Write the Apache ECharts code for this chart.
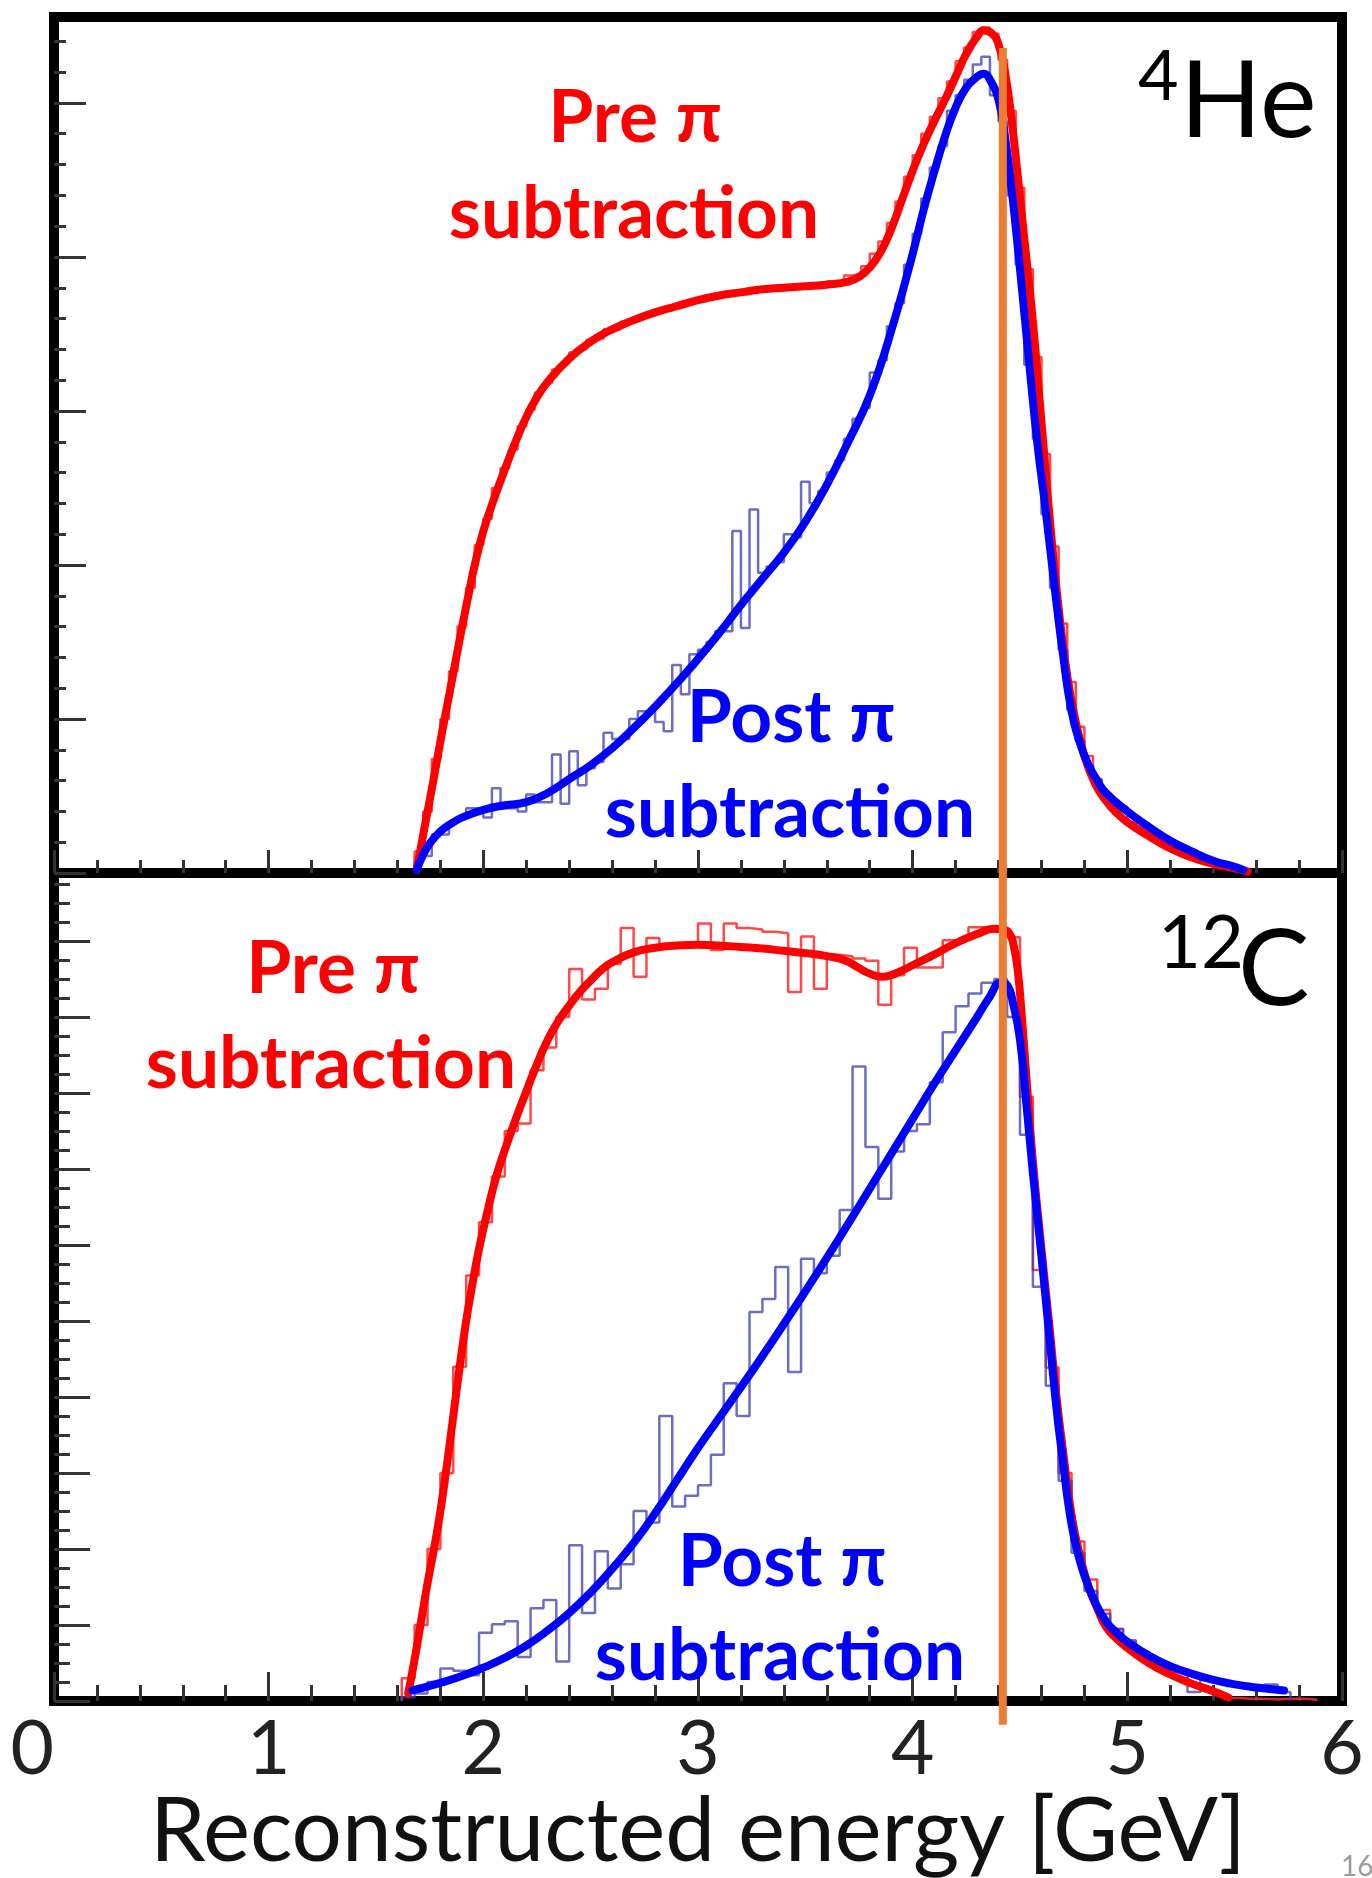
<!DOCTYPE html>
<html>
<head>
<meta charset="utf-8">
<script src="https://cdn.jsdelivr.net/npm/echarts@6/dist/echarts.min.js"></script>
<style>
html,body{margin:0;padding:0;background:#ffffff;}
#chart{width:1372px;height:1878px;}
</style>
</head>
<body>
<div id="chart"></div>
<script>
// ---------------- data ----------------
const xTicks = [0, 1, 2, 3, 4, 5, 6];
const heMajorTicks = [0, 1, 2, 3, 4, 5];
const cMajorTicks = [0, 1, 2, 3, 4, 5, 6, 7, 8, 9, 10];
const energyMarker = 4.42;

// 4He: smooth fits
const heRedFitX = [1.69,1.72,1.75,1.78,1.81,1.84,1.87,1.90,1.93,1.96,2.00,2.05,2.10,2.15,2.20,2.25,2.30,2.40,2.50,2.60,2.70,2.80,2.90,3.00,3.10,3.20,3.30,3.40,3.50,3.60,3.70,3.75,3.80,3.85,3.90,3.95,4.00,4.05,4.10,4.15,4.20,4.25,4.30,4.33,4.37,4.40,4.43,4.46,4.49,4.52,4.56,4.60,4.64,4.68,4.72,4.76,4.80,4.85,4.90,4.95,5.00,5.10,5.20,5.30,5.40,5.50,5.56];
const heRedFitY = [0.02,0.25,0.47,0.70,0.93,1.15,1.37,1.59,1.80,2.00,2.22,2.43,2.62,2.80,2.96,3.09,3.19,3.34,3.45,3.53,3.59,3.64,3.68,3.72,3.75,3.77,3.79,3.80,3.81,3.82,3.84,3.87,3.93,4.03,4.18,4.37,4.56,4.73,4.88,5.02,5.17,5.32,5.43,5.47,5.45,5.38,5.20,4.90,4.52,4.12,3.58,2.93,2.28,1.72,1.28,0.98,0.76,0.58,0.47,0.39,0.33,0.24,0.16,0.10,0.06,0.03,0.01];
const heBlueFitX = [1.69,1.72,1.75,1.80,1.85,1.90,2.00,2.10,2.20,2.30,2.40,2.50,2.60,2.70,2.80,2.90,3.00,3.10,3.20,3.30,3.40,3.50,3.60,3.70,3.80,3.90,4.00,4.05,4.10,4.15,4.20,4.25,4.30,4.33,4.36,4.40,4.43,4.46,4.50,4.54,4.58,4.62,4.66,4.70,4.74,4.78,4.82,4.86,4.90,5.00,5.10,5.20,5.30,5.40,5.50,5.54];
const heBlueFitY = [0.02,0.12,0.19,0.27,0.32,0.36,0.41,0.44,0.46,0.52,0.61,0.70,0.81,0.94,1.08,1.23,1.39,1.56,1.74,1.91,2.08,2.28,2.52,2.80,3.10,3.52,4.02,4.30,4.55,4.78,4.97,5.10,5.17,5.19,5.15,5.02,4.78,4.45,3.92,3.35,2.80,2.35,1.87,1.42,1.05,0.84,0.70,0.60,0.52,0.40,0.30,0.21,0.14,0.08,0.04,0.02];

// 4He: histograms (bin width 0.04 GeV, first bin starts at 1.68 GeV)
const heHistStart = 1.68;
const heBinWidth = 0.04;
const heRedHist = [0.14,0.40,0.74,1.00,1.31,1.60,1.85,2.13,2.30,2.50,2.63,2.75,2.90,3.01,3.12,3.18,3.27,3.31,3.38,3.40,3.46,3.47,3.53,3.53,3.58,3.58,3.62,3.62,3.66,3.65,3.69,3.69,3.72,3.71,3.75,3.74,3.77,3.76,3.78,3.77,3.80,3.78,3.81,3.79,3.82,3.80,3.82,3.81,3.84,3.82,3.88,3.89,3.94,4.02,4.10,4.22,4.36,4.52,4.66,4.80,4.91,5.03,5.14,5.27,5.36,5.46,5.49,5.45,5.28,4.95,4.45,3.92,3.35,2.72,2.12,1.62,1.24,0.95,0.76,0.60,0.50,0.42,0.36,0.33,0.28,0.25,0.21,0.18,0.15,0.13,0.10,0.09,0.07,0.05,0.04,0.03,0.02];
const heBlueHist = [0.08,0.11,0.25,0.25,0.33,0.36,0.42,0.42,0.36,0.55,0.42,0.42,0.40,0.51,0.46,0.46,0.77,0.45,0.79,0.57,0.68,0.72,0.91,0.87,0.87,1.00,1.05,1.05,0.98,0.92,1.35,1.16,1.42,1.45,1.50,1.57,1.57,2.22,1.59,2.36,1.95,1.99,2.02,2.20,2.18,2.54,2.40,2.48,2.60,2.68,2.82,2.95,3.02,3.25,3.33,3.55,3.70,3.95,4.15,4.38,4.58,4.72,4.95,5.05,5.15,5.25,5.30,5.05,4.88,4.40,3.95,3.30,2.82,2.33,1.85,1.45,1.06,0.86,0.70,0.61,0.52,0.47,0.43,0.37,0.34,0.30,0.26,0.23,0.19,0.17,0.14,0.12,0.09,0.07,0.05,0.04,0.02];

// 12C: smooth fits
const cRedFitX = [1.65,1.68,1.71,1.74,1.77,1.80,1.83,1.86,1.89,1.92,1.95,1.98,2.02,2.06,2.10,2.15,2.20,2.25,2.30,2.35,2.40,2.45,2.50,2.55,2.60,2.70,2.80,2.90,3.00,3.10,3.20,3.30,3.40,3.50,3.60,3.68,3.74,3.80,3.855,3.90,3.95,4.00,4.10,4.20,4.30,4.38,4.42,4.45,4.47,4.49,4.51,4.53,4.56,4.60,4.64,4.67,4.70,4.74,4.78,4.82,4.86,4.90,4.95,5.00,5.10,5.20,5.30,5.40,5.47];
const cRedFitY = [0.10,0.55,1.05,1.55,2.00,2.50,3.10,3.75,4.40,5.00,5.50,5.95,6.45,6.90,7.25,7.65,8.02,8.38,8.70,8.95,9.15,9.33,9.48,9.62,9.72,9.85,9.91,9.94,9.95,9.94,9.92,9.90,9.87,9.84,9.80,9.75,9.66,9.57,9.53,9.55,9.61,9.68,9.82,9.97,10.09,10.16,10.15,10.10,9.95,9.60,8.95,8.20,7.10,5.95,4.85,4.00,3.30,2.45,1.90,1.50,1.22,0.98,0.82,0.70,0.50,0.35,0.23,0.13,0.05];
const cBlueFitX = [1.67,1.80,1.90,2.00,2.10,2.20,2.30,2.40,2.50,2.60,2.70,2.80,2.90,3.00,3.10,3.20,3.30,3.40,3.50,3.60,3.70,3.80,3.90,4.00,4.10,4.20,4.30,4.36,4.41,4.44,4.47,4.50,4.53,4.56,4.60,4.64,4.67,4.70,4.73,4.76,4.80,4.85,4.90,4.95,5.00,5.10,5.20,5.30,5.40,5.50,5.60,5.73];
const cBlueFitY = [0.14,0.24,0.33,0.44,0.57,0.73,0.93,1.16,1.43,1.74,2.08,2.47,2.90,3.33,3.73,4.13,4.54,4.96,5.39,5.83,6.28,6.74,7.20,7.66,8.12,8.56,9.00,9.27,9.45,9.42,9.15,8.70,7.85,6.95,5.85,4.70,3.85,3.15,2.50,2.05,1.65,1.30,1.05,0.90,0.78,0.60,0.46,0.36,0.28,0.22,0.18,0.14];

// 12C: histograms (bin width 0.06 GeV, first bin starts at 1.62 GeV)
const cHistStart = 1.62;
const cBinWidth = 0.06;
const cRedHist = [0.30,1.00,2.00,3.00,4.40,5.60,6.30,6.90,7.50,7.60,8.30,8.60,9.00,9.63,9.23,9.37,9.70,10.17,9.53,10.04,9.95,9.97,9.98,10.23,9.88,10.23,10.17,10.15,10.12,10.10,9.33,10.06,9.37,9.82,9.80,9.77,9.74,9.16,9.55,9.91,9.65,9.65,10.01,10.01,10.18,10.18,10.12,10.05,7.95,5.67,4.39,3.00,2.10,1.60,1.20,0.95,0.78,0.62,0.55,0.42,0.30,0.22,0.14,0.08,0.04,0.03,0.03,0.02,0.03,0.03,0.02];
const cBlueHist = [0.05,0.10,0.25,0.43,0.40,0.34,0.90,1.01,1.05,0.58,1.22,1.33,0.52,2.05,1.16,1.97,1.48,1.80,2.50,2.35,3.75,2.56,2.70,2.84,3.24,4.18,3.75,5.12,5.29,5.71,4.33,5.82,5.63,5.86,6.46,8.35,7.29,6.61,7.23,7.50,7.59,8.14,8.80,9.14,9.31,9.45,9.50,9.00,7.45,5.45,4.15,2.90,1.95,1.45,1.15,0.95,0.80,0.65,0.55,0.45,0.42,0.12,0.30,0.25,0.20,0.18,0.15,0.22,0.12];

// ---------------- helpers ----------------
function pairs(xs, ys) { return xs.map((x, i) => [x, ys[i]]); }
function stepData(start, width, values) {
  const r = (v) => Math.round(v * 10000) / 10000;
  const pts = [[r(start), 0]];
  values.forEach((v, i) => pts.push([r(start + i * width), v]));
  pts.push([r(start + values.length * width), 0]);
  return pts;
}

const FONT = 'Lato, "Noto Sans", "DejaVu Sans", sans-serif';
const RED = '#ff0000';
const BLUE = '#0000ff';
const RED_HIST = 'rgba(255,40,40,0.85)';
const BLUE_HIST = 'rgba(60,60,175,0.75)';
const ORANGE = '#ed7d31';
const TICK = '#333333';
const SUB = 'subtrac\u200Ction';

function yAxisCfg(grid, max, majors, majorLen, minorSplit, minorLen) {
  return {
    type: 'value', gridIndex: grid, min: 0, max: max, interval: 1,
    axisLine: { show: false }, splitLine: { show: false },
    axisLabel: { show: false },
    axisTick: { show: true, inside: true, length: majorLen, customValues: majors,
      lineStyle: { color: TICK, width: 3 } },
    minorTick: { show: true, splitNumber: minorSplit, length: minorLen,
      lineStyle: { color: TICK, width: 3 } },
    minorSplitLine: { show: false }
  };
}

function fitSeries(name, xi, yi, xs, ys, color, z) {
  return { name: name, type: 'line', xAxisIndex: xi, yAxisIndex: yi, symbol: 'none', smooth: 0.5,
    data: pairs(xs, ys), lineStyle: { color: color, width: 8, cap: 'round', join: 'round' }, z: z, silent: true };
}
function histSeries(name, xi, yi, start, width, values, color) {
  return { name: name, type: 'line', xAxisIndex: xi, yAxisIndex: yi, step: 'end', symbol: 'none',
    data: stepData(start, width, values), lineStyle: { color: color, width: 2.5 }, z: 2, silent: true };
}
function label(x, y, text, color) {
  return { type: 'text', x: x, y: y, z: 30,
    style: { text: text, fill: color, font: 'bold 73px ' + FONT, textAlign: 'center', textVerticalAlign: 'middle' } };
}

const chart = echarts.init(document.getElementById('chart'), null, { renderer: 'canvas' });

const option = {
  animation: false,
  backgroundColor: '#ffffff',
  textStyle: { fontFamily: FONT },
  grid: [
    { left: 54, top: 17, width: 1288, height: 856, show: true,
      borderColor: '#000', borderWidth: 10, backgroundColor: 'transparent', containLabel: false },
    { left: 54, top: 873, width: 1288, height: 853, show: true,
      borderColor: '#000', borderWidth: 10, backgroundColor: 'transparent', containLabel: false }
  ],
  xAxis: [
    { type: 'value', gridIndex: 0, min: 0, max: 6, interval: 1,
      axisLine: { show: false }, splitLine: { show: false },
      axisLabel: { show: false },
      axisTick: { show: true, inside: true, length: 23, lineStyle: { color: TICK, width: 3 } },
      minorTick: { show: true, splitNumber: 5, length: 13, lineStyle: { color: TICK, width: 3 } } },
    { type: 'value', gridIndex: 1, min: 0, max: 6, interval: 1,
      axisLine: { show: false }, splitLine: { show: false },
      axisLabel: { show: true, fontSize: 75, color: '#222', fontFamily: FONT, margin: 11,
        alignMinLabel: 'right', formatter: (v) => xTicks.includes(v) ? String(v) : '' },
      axisTick: { show: true, inside: true, length: 29, lineStyle: { color: TICK, width: 3 } },
      minorTick: { show: true, splitNumber: 5, length: 16, lineStyle: { color: TICK, width: 3 } },
      name: 'Reconstructed energy [GeV]', nameLocation: 'middle', nameGap: 66,
      nameTextStyle: { fontSize: 89, color: '#111', fontFamily: FONT } }
  ],
  yAxis: [
    yAxisCfg(0, 5.558, heMajorTicks, 32, 5, 12),
    yAxisCfg(1, 10.894, cMajorTicks, 36, 4, 16)
  ],
  series: [
    histSeries('He pre hist', 0, 0, heHistStart, heBinWidth, heRedHist, RED_HIST),
    histSeries('He post hist', 0, 0, heHistStart, heBinWidth, heBlueHist, BLUE_HIST),
    fitSeries('He pre fit', 0, 0, heRedFitX, heRedFitY, RED, 3),
    fitSeries('He post fit', 0, 0, heBlueFitX, heBlueFitY, BLUE, 4),
    histSeries('C pre hist', 1, 1, cHistStart, cBinWidth, cRedHist, RED_HIST),
    histSeries('C post hist', 1, 1, cHistStart, cBinWidth, cBlueHist, BLUE_HIST),
    fitSeries('C pre fit', 1, 1, cRedFitX, cRedFitY, RED, 3),
    fitSeries('C post fit', 1, 1, cBlueFitX, cBlueFitY, BLUE, 4),
    { name: 'marker top', type: 'line', xAxisIndex: 0, yAxisIndex: 0, symbol: 'none', clip: false,
      data: [[energyMarker, 5.357], [energyMarker, 0]], lineStyle: { color: ORANGE, width: 8 }, z: 20, silent: true },
    { name: 'marker bottom', type: 'line', xAxisIndex: 1, yAxisIndex: 1, symbol: 'none', clip: false,
      data: [[energyMarker, 10.95], [energyMarker, -0.31]], lineStyle: { color: ORANGE, width: 8 }, z: 20, silent: true }
  ],
  graphic: [
    label(635, 118, 'Pre π', RED),
    label(634, 214, SUB, RED),
    label(791, 718, 'Post π', BLUE),
    label(790, 813, SUB, BLUE),
    label(333, 969, 'Pre π', RED),
    label(331, 1064, SUB, RED),
    label(782, 1562, 'Post π', BLUE),
    label(780, 1656, SUB, BLUE),
    { type: 'text', x: 1138, y: 77, z: 30, style: { text: '4', fill: '#000', font: '70px ' + FONT, textAlign: 'left', textVerticalAlign: 'middle' } },
    { type: 'text', x: 1180, y: 102, z: 30, style: { text: 'He', fill: '#000', font: '107px ' + FONT, textAlign: 'left', textVerticalAlign: 'middle' } },
    { type: 'text', x: 1158, y: 944, z: 30, style: { text: '12', fill: '#000', font: '74px ' + FONT, textAlign: 'left', textVerticalAlign: 'middle' } },
    { type: 'text', x: 1238, y: 970, z: 30, style: { text: 'C', fill: '#000', font: '107px ' + FONT, textAlign: 'left', textVerticalAlign: 'middle' } },
    { type: 'text', x: 1341, y: 1867, z: 30, style: { text: '16', fill: '#9a9a9a', font: '28px ' + FONT, textAlign: 'left', textVerticalAlign: 'middle' } }
  ]
};

chart.setOption(option);
</script>
</body>
</html>
